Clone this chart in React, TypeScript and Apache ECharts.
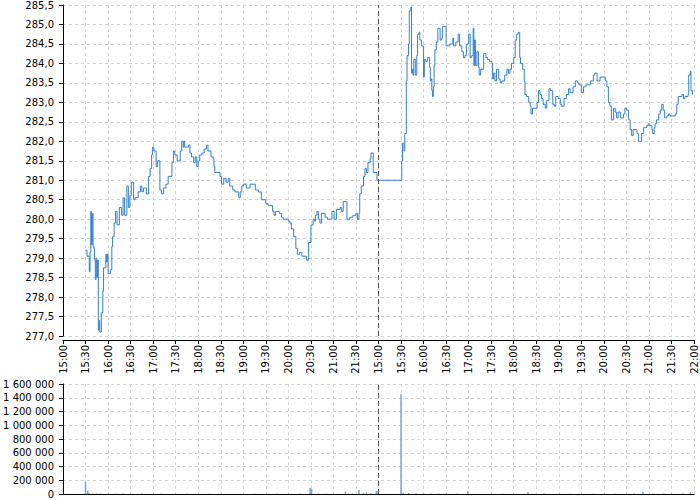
import React, { useEffect, useRef } from "react";
import * as echarts from "echarts";

// ---- Price data, day 1 (session 15:00–22:00) ----
const day1Times = [
  "15:30","15:32","15:35","15:36","15:37","15:38","15:39","15:40","15:41","15:42",
  "15:43","15:44","15:45","15:46","15:47","15:48","15:49","15:51","15:53","15:54",
  "15:57","15:58","15:59","16:00","16:03","16:05","16:06","16:08","16:10","16:12",
  "16:15","16:18","16:20","16:22","16:25","16:27","16:29","16:31","16:34","16:36",
  "16:40","16:43","16:45","16:47","16:51","16:54","16:56","16:58","16:59","17:01",
  "17:04","17:06","17:09","17:11","17:14","17:17","17:20","17:25","17:27","17:29",
  "17:32","17:36","17:38","17:40","17:41","17:42","17:47","17:49","17:51","17:54",
  "17:56","17:58","18:00","18:02","18:05","18:08","18:11","18:13","18:17","18:20",
  "18:21","18:22","18:29","18:31","18:34","18:37","18:40","18:42","18:46","18:49",
  "18:54","18:56","18:58","19:00","19:04","19:09","19:16","19:20","19:24","19:30",
  "19:33","19:39","19:41","19:43","19:48","19:51","19:53","20:00","20:02","20:04",
  "20:07","20:10","20:12","20:15","20:18","20:24","20:27","20:30","20:33","20:35",
  "20:36","20:38","20:40","20:42","20:44","20:49","20:52","20:58","21:01","21:04",
  "21:09","21:11","21:13","21:18","21:22","21:26","21:30","21:32","21:34","21:35",
  "21:37","21:40","21:42","21:44","21:46","21:49","21:50","21:53","21:58"
];
const day1Prices = [
  279.2,279.05,278.65,279.15,280.2,279.35,280.15,279.3,279.25,278.95,
  278.45,279.0,278.5,278.95,277.15,277.4,277.1,277.6,278.15,278.75,
  279.1,278.9,279.1,278.6,278.7,279.3,279.55,279.9,280.2,279.85,
  280.3,280.1,280.55,280.1,280.85,280.3,280.6,280.95,280.5,280.55,
  280.7,280.85,280.7,280.8,280.65,281.1,281.3,281.65,281.85,281.75,
  281.35,281.5,280.75,280.65,280.8,280.9,281.1,281.45,281.75,281.65,
  281.5,281.75,282.0,281.85,282.0,281.85,281.9,281.7,281.6,281.45,
  281.6,281.35,281.5,281.65,281.7,281.8,281.9,281.75,281.6,281.55,
  281.35,281.2,281.1,280.9,281.05,280.95,281.05,280.85,280.75,280.7,
  280.55,280.7,280.85,280.9,280.8,280.9,280.75,280.7,280.5,280.4,
  280.35,280.2,280.1,280.2,280.15,280.05,280.0,279.95,279.9,279.75,
  279.55,279.25,279.1,279.15,279.05,278.95,279.4,279.85,280.0,279.95,
  280.1,280.2,280.0,279.9,280.15,280.05,280.0,280.2,280.0,280.25,
  280.3,280.2,280.45,280.0,280.05,280.1,280.15,280.0,280.15,280.65,
  280.85,281.1,281.3,281.2,281.45,281.55,281.7,281.2,281.0
];

// ---- Price data, day 2 ----
const day2Times = [
  "15:31","15:32","15:34","15:35","15:37","15:38","15:40","15:41","15:43","15:44",
  "15:45","15:46","15:47","15:49","15:51","15:52","15:54","15:55","15:57","16:00",
  "16:01","16:03","16:05","16:08","16:09","16:10","16:11","16:12","16:13","16:14",
  "16:15","16:17","16:19","16:22","16:24","16:25","16:30","16:35","16:39","16:40",
  "16:43","16:46","16:48","16:51","16:53","16:55","16:57","17:00","17:02","17:04",
  "17:06","17:07","17:08","17:09","17:11","17:13","17:14","17:16","17:20","17:23",
  "17:25","17:28","17:31","17:32","17:33","17:35","17:37","17:40","17:42","17:44",
  "17:48","17:51","17:53","17:55","17:57","18:00","18:02","18:04","18:06","18:08",
  "18:09","18:12","18:14","18:15","18:17","18:20","18:22","18:23","18:25","18:31",
  "18:33","18:35","18:37","18:39","18:42","18:44","18:47","18:49","18:52","18:54",
  "18:56","18:59","19:02","19:04","19:07","19:10","19:13","19:15","19:19","19:22",
  "19:25","19:27","19:30","19:33","19:36","19:42","19:46","19:48","19:51","19:55",
  "20:02","20:04","20:06","20:08","20:10","20:13","20:15","20:17","20:19","20:22",
  "20:26","20:28","20:30","20:33","20:35","20:37","20:39","20:44","20:46","20:50",
  "20:53","20:57","20:59","21:01","21:04","21:05","21:07","21:08","21:10","21:13",
  "21:15","21:17","21:19","21:21","21:24","21:26","21:28","21:35","21:37","21:39",
  "21:44","21:46","21:48","21:52","21:53","21:55","21:56","21:58"
];
const day2Prices = [
  281.5,281.95,281.75,282.2,283.55,284.2,284.5,285.35,285.45,283.75,
  283.85,283.7,284.1,283.7,284.2,284.75,284.8,284.6,284.45,283.65,
  284.1,284.05,284.15,283.9,283.55,283.6,283.3,283.15,283.4,283.95,
  284.35,284.55,284.9,284.6,284.65,284.95,284.45,284.5,284.65,284.45,
  284.55,284.75,284.45,284.3,284.15,284.2,284.5,284.75,284.15,284.2,
  284.9,283.95,284.6,283.95,284.3,283.9,283.7,283.85,284.25,284.15,
  284.1,284.05,284.0,283.6,283.75,283.55,283.85,283.6,283.5,283.55,
  283.7,283.85,283.75,283.85,284.0,284.15,284.6,284.75,284.8,284.15,
  284.0,283.85,283.55,283.2,283.15,283.0,282.9,282.7,282.85,283.0,
  283.3,283.2,283.1,282.95,282.85,283.05,283.35,283.3,282.95,282.9,
  283.15,283.1,282.95,282.9,283.1,283.2,283.35,283.25,283.4,283.55,
  283.5,283.45,283.25,283.4,283.45,283.55,283.7,283.75,283.55,283.65,
  283.55,283.4,283.0,282.9,282.55,282.85,282.75,282.6,282.75,282.6,
  282.7,282.85,282.8,282.55,282.3,282.15,282.3,282.2,282.0,282.2,
  282.35,282.4,282.45,282.4,282.3,282.2,282.35,282.45,282.55,282.7,
  282.8,282.95,282.8,282.6,282.65,282.7,282.65,282.7,282.95,283.15,
  283.2,283.1,283.15,283.2,283.7,283.8,283.3,283.2
];

// ---- Volume data ----
const vol1Times = [
  "15:30","15:33","15:35","15:40","15:45","15:50","16:00","16:10","16:20","16:30",
  "16:45","17:00","17:10","17:30","17:45","18:00","18:15","18:30","18:45","19:00",
  "19:15","19:30","19:45","20:00","20:15","20:29","20:31","20:40","20:50","21:00",
  "21:16","21:20","21:25","21:34","21:40","21:44","21:50","21:57","21:58"
];
const vol1Values = [
  178000,46000,12000,8000,9000,7000,6000,5000,7000,5000,
  6000,8000,5000,6000,4000,5000,4000,6000,3000,4000,
  5000,4000,3000,5000,6000,90000,72000,8000,5000,6000,
  34000,9000,7000,58000,18000,25000,12000,40000,46000
];
const vol2Times = [
  "15:30","15:33","15:40","15:50","16:00","16:10","16:20","16:30","16:45","16:59",
  "17:15","17:30","17:45","18:00","18:19","18:40","19:00","19:15","19:30","19:45",
  "20:00","20:15","20:30","20:40","20:52","21:05","21:20","21:30","21:45","21:55"
];
const vol2Values = [
  1450000,20000,15000,12000,10000,9000,8000,7000,6000,39000,
  5000,6000,5000,8000,25000,10000,5000,4000,7000,5000,
  6000,5000,8000,6000,33000,7000,6000,9000,8000,25000
];

const SESSION = 420; // minutes 15:00–22:00

function toMinutes(t: string, day: number): number {
  const [h, m] = t.split(":").map(Number);
  return (h - 15) * 60 + m + day * SESSION;
}

function tickLabel(v: number): string {
  if (v >= 2 * SESSION) return "22:00";
  const m = v % SESSION;
  const h = 15 + Math.floor(m / 60);
  const mm = m % 60;
  return `${h}:${mm < 10 ? "0" + mm : mm}`;
}

const FONT = "DejaVu Sans";
const gridLine = { show: true, lineStyle: { color: "#d4d4d4", type: [3, 3] as number[], width: 1 } };
const axisLineBlack = { show: true, lineStyle: { color: "#000", width: 1 } };

export default function App() {
  const ref = useRef<HTMLDivElement>(null);
  useEffect(() => {
    document.body.style.margin = "0";
    if (!ref.current) return;
    const chart = echarts.init(ref.current, null, { renderer: "svg" });

    const priceData = [
      ...day1Times.map((t, i) => [toMinutes(t, 0), day1Prices[i]]),
      ...day2Times.map((t, i) => [toMinutes(t, 1), day2Prices[i]]),
    ];
    const volData = [
      ...vol1Times.map((t, i) => [toMinutes(t, 0), vol1Values[i]]),
      ...vol2Times.map((t, i) => [toMinutes(t, 1), vol2Values[i]]),
    ];

    const markLine = {
      symbol: "none",
      silent: true,
      label: { show: false },
      lineStyle: { color: "#555", type: [5, 3] as number[], width: 1 },
      data: [{ xAxis: SESSION }],
    };

    chart.setOption({
      animation: false,
      textStyle: { fontFamily: FONT },
      grid: [
        { left: 63, right: 6, top: 5, bottom: 164 },
        { left: 63, right: 6, top: 384, bottom: 6 },
      ],
      xAxis: [
        {
          type: "value", gridIndex: 0, min: 0, max: 2 * SESSION, interval: 30, offset: 4,
          axisLine: axisLineBlack,
          axisTick: { show: true, length: 4, lineStyle: { color: "#000" } },
          axisLabel: { rotate: 90, formatter: tickLabel, color: "#000", fontSize: 10, fontFamily: FONT, margin: 5 },
          splitLine: gridLine,
        },
        {
          type: "value", gridIndex: 1, min: 0, max: 2 * SESSION, interval: 30,
          axisLine: axisLineBlack,
          axisTick: { show: false },
          axisLabel: { show: false },
          splitLine: gridLine,
        },
      ],
      yAxis: [
        {
          type: "value", gridIndex: 0, min: 277, max: 285.5, interval: 0.5, offset: 4,
          axisLine: axisLineBlack,
          axisTick: { show: true, length: 4, lineStyle: { color: "#000" } },
          axisLabel: {
            formatter: (v: number) => v.toFixed(1).replace(".", ","),
            color: "#000", fontSize: 10, fontFamily: FONT, margin: 5,
          },
          splitLine: gridLine,
        },
        {
          type: "value", gridIndex: 1, min: 0, max: 1600000, interval: 200000, offset: 4,
          axisLine: axisLineBlack,
          axisTick: { show: true, length: 4, lineStyle: { color: "#000" } },
          axisLabel: {
            formatter: (v: number) => String(Math.round(v)).replace(/\B(?=(\d{3})+(?!\d))/g, " "),
            color: "#000", fontSize: 10, fontFamily: FONT, margin: 5,
          },
          splitLine: gridLine,
        },
      ],
      series: [
        {
          type: "line", xAxisIndex: 0, yAxisIndex: 0, data: priceData,
          step: "end", symbol: "none", showSymbol: false,
          lineStyle: { color: "#2f80d8", width: 1 },
          markLine,
        },
        {
          type: "bar", xAxisIndex: 1, yAxisIndex: 1, data: volData,
          barWidth: 1.5,
          itemStyle: { color: "#6ea6e3" },
          markLine,
        },
      ],
    });
    return () => chart.dispose();
  }, []);
  return <div ref={ref} style={{ width: 700, height: 500 }} />;
}
